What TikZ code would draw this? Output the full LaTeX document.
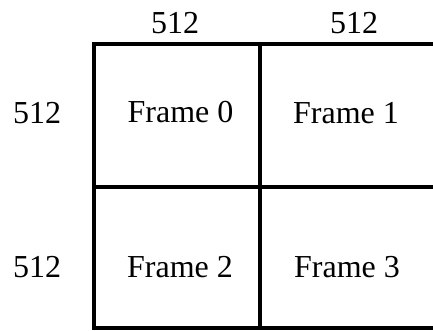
\documentclass[tikz,border=0pt]{standalone}
\usepackage{fontspec}
\setmainfont{Liberation Serif}
\tikzset{
  gridline/.style={line width=3.6pt, line cap=rect},
  lbl/.style={anchor=base, inner sep=0pt, font=\fontsize{32}{36}\selectfont},
}
\begin{document}
\begin{tikzpicture}[x=1pt,y=-1pt]
  \useasboundingbox (0,0) rectangle (433,330);
  % grid coordinates
  \coordinate (tl) at (94,44);
  \coordinate (tm) at (260,44);
  \coordinate (tr) at (436,44);
  \coordinate (ml) at (94,187);
  \coordinate (mr) at (436,187);
  \coordinate (bl) at (94,328);
  \coordinate (bm) at (260,328);
  \coordinate (br) at (436,328);
  % frame grid
  \draw[gridline] (tr) -- (tl) -- (bl) -- (br);
  \draw[gridline] (ml) -- (mr);
  \draw[gridline] (tm) -- (bm);
  % column sizes
  \node[lbl] (c0) at (175,33) {512};
  \node[lbl] (c1) at (354,33) {512};
  % row sizes
  \node[lbl] (r0) at (37,123) {512};
  \node[lbl] (r1) at (37,277) {512};
  % frames
  \node[lbl] (f0) at (180.5,122) {Frame 0};
  \node[lbl] (f1) at (346,123) {Frame 1};
  \node[lbl] (f2) at (180,277) {Frame 2};
  \node[lbl] (f3) at (347,277) {Frame 3};
\end{tikzpicture}
\end{document}
